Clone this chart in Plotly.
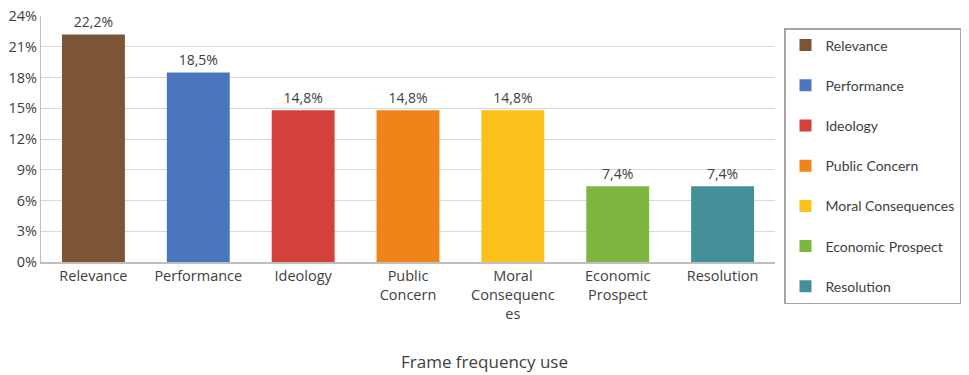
import plotly.graph_objects as go

categories = ["Relevance", "Performance", "Ideology", "Public Concern",
              "Moral Consequences", "Economic Prospect", "Resolution"]
tick_labels = ["Relevance", "Performance", "Ideology", "Public<br>Concern",
               "Moral<br>Consequenc<br>es", "Economic<br>Prospect", "Resolution"]
values = [22.2, 18.5, 14.8, 14.8, 14.8, 7.4, 7.4]
colors = ["#7B5536", "#4A76BE", "#D4413B", "#F0841A", "#FCC11A", "#7DB741", "#43909A"]
y_ticks = [0, 3, 6, 9, 12, 15, 18, 21, 24]

FONT = "Open Sans"
LFONT = "Lato"
fig = go.Figure()
for cat, lab, v, c in zip(categories, tick_labels, values, colors):
    fig.add_trace(go.Bar(
        x=[lab], y=[v], name=cat, legendgroup=cat,
        marker=dict(color=c, line=dict(width=0)),
        width=0.6,
        text=[f"{v:.1f}%".replace(".", ",")], textposition="outside",
        textfont=dict(family=FONT, size=14, color="#404040"),
        cliponaxis=False,
    ))

fig.update_layout(
    width=969, height=375,
    margin=dict(l=41, r=194, t=16, b=113, autoexpand=False),
    paper_bgcolor="white", plot_bgcolor="white",
    showlegend=True,
    bargap=0.4,
    font=dict(family=FONT, color="#595959"),
    legend=dict(
        xref="container", yref="container",
        x=784 / 969, xanchor="left", y=1 - 28 / 375, yanchor="top",
        bordercolor="#A6A6A6", borderwidth=1.5,
        font=dict(family=LFONT, size=14, color="#404040"),
        tracegroupgap=19,
        traceorder="grouped",
        maxheight=1.0,
        itemwidth=30,
    ),
    title=dict(
        text="Frame frequency use", xref="container", yref="container",
        x=0.5, xanchor="center", y=0.035, yanchor="middle",
        font=dict(family=FONT, size=17, color="#404040"),
    ),
    xaxis=dict(
        type="category", showgrid=False, showline=True, linecolor="#BFBFBF",
        linewidth=1.5, ticks="", tickfont=dict(family=FONT, size=14.5, color="#404040"),
    ),
    yaxis=dict(
        range=[0, 24], tickvals=y_ticks, ticktext=[f"{t}%" for t in y_ticks],
        showgrid=True, gridcolor="#D9D9D9", gridwidth=1.2,
        showline=True, linecolor="#BFBFBF", linewidth=1.2,
        zeroline=False, ticks="",
        tickfont=dict(family=FONT, size=14.5, color="#404040"),
    ),
)
fig.write_html("out.html")
